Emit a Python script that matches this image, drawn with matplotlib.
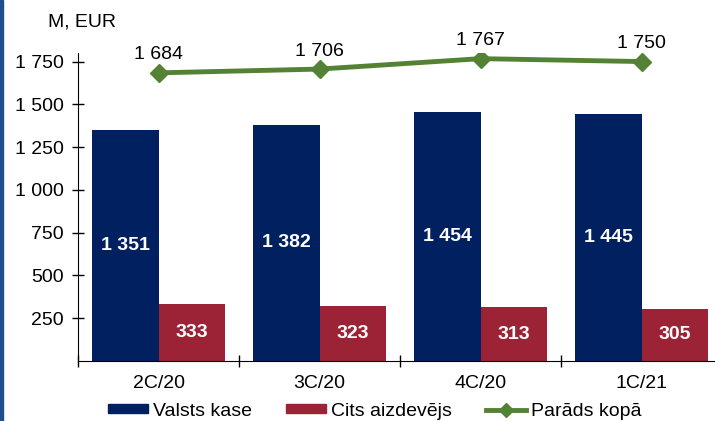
import matplotlib.pyplot as plt
from matplotlib.patches import Rectangle
from matplotlib.lines import Line2D
import numpy as np

plt.rcParams['font.family'] = ['Liberation Sans', 'DejaVu Sans']

categories = ['2C/20', '3C/20', '4C/20', '1C/21']
valsts_kase = [1351, 1382, 1454, 1445]
cits_aizdevejs = [333, 323, 313, 305]
parads_kopa = [1684, 1706, 1767, 1750]
yticks = [250, 500, 750, 1000, 1250, 1500, 1750]

blue = '#002060'
red = '#9B2335'
green = '#548235'
fs = 14

W, H = 715, 421
fig = plt.figure(figsize=(W / 100, H / 100), dpi=100)
# axes box in pixels: left 78, right 722 (cut off), top 53, bottom 361
ax = fig.add_axes([78 / W, 1 - 361 / H, (722 - 78) / W, (361 - 53) / H])

x = np.arange(len(categories))
bw = 0.415
b1 = ax.bar(x - bw / 2, valsts_kase, bw, color=blue, label='Valsts kase')
b2 = ax.bar(x + bw / 2, cits_aizdevejs, bw, color=red, label='Cits aizdevējs')
ax.plot(x, parads_kopa, color=green, lw=3.5, marker='D', ms=9, label='Parāds kopā')

def fmt(v):
    return f'{v:,}'.replace(',', ' ')

for rects, vals in ((b1, valsts_kase), (b2, cits_aizdevejs)):
    for r, v in zip(rects, vals):
        ax.text(r.get_x() + r.get_width() / 2, v / 2, fmt(v),
                ha='center', va='center', color='white', fontsize=fs, fontweight='bold')

for xi, v in zip(x, parads_kopa):
    ax.text(xi, v + 55, fmt(v), ha='center', va='bottom', fontsize=fs)

ax.set_xlim(-0.5, 3.5)
ax.set_ylim(0, 1800)
ax.set_yticks(yticks)
ax.set_yticklabels([fmt(t) for t in yticks], fontsize=fs)
ax.set_xticks(np.arange(-0.5, 4, 1))
ax.set_xticklabels([])
ax.set_xticks(x, minor=True)
ax.set_xticklabels(categories, minor=True, fontsize=fs)
ax.tick_params(axis='x', which='minor', length=0, pad=10)
ax.tick_params(axis='both', which='major', direction='inout', length=9, width=1)
ax.tick_params(axis='y', pad=6)
for s in ('top', 'right'):
    ax.spines[s].set_visible(False)

fig.text(48 / W, 1 - 22 / H, 'M, EUR', fontsize=fs, va='center', ha='left')

handles = [Rectangle((0, 0), 1, 1, color=blue), Rectangle((0, 0), 1, 1, color=red),
           Line2D([], [], color=green, lw=3.5, marker='D', ms=7)]
fig.legend(handles, ['Valsts kase', 'Cits aizdevējs', 'Parāds kopā'], loc='center left',
           bbox_to_anchor=(108 / W, 1 - 411 / H), ncol=3, frameon=False, fontsize=fs,
           handlelength=2.05, handleheight=0.4, columnspacing=1.75, handletextpad=0.27,
           borderpad=0, borderaxespad=0)

fig.add_artist(Rectangle((0, 0), 3 / W, 1, transform=fig.transFigure, color='#1F4E8C'))

fig.savefig('out.png', dpi=100)
